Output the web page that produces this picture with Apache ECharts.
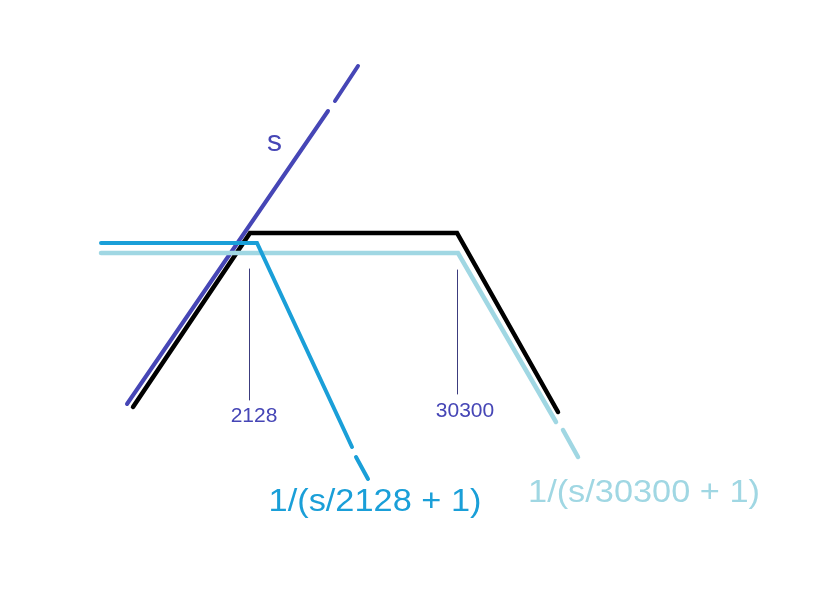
<!DOCTYPE html>
<html>
<head>
<meta charset="utf-8">
<script src="https://cdn.jsdelivr.net/npm/echarts@6/dist/echarts.min.js"></script>
<style>
html,body{margin:0;padding:0;background:#fff;}
#chart{width:835px;height:595px;}
</style>
</head>
<body>
<div id="chart"></div>
<script>
// Sketch coordinates (x: log-frequency position, y: magnitude position, downward)
var sSolid = [[127, 404], [328, 111]];
var sTail = [[335, 101], [358, 66]];
var totalLine = [[133, 407], [250, 233], [457, 233], [558, 412]];
var pole1Solid = [[101, 243], [257, 243], [352, 447]];
var pole1Tail = [[356, 457], [368, 479]];
var pole2Solid = [[101, 253], [458, 253], [556, 422]];
var pole2Tail = [[563, 430], [578, 457]];
var tick2128 = [[249.5, 269], [249.5, 400]];
var tick30300 = [[457.5, 270], [457.5, 394]];
var tickLabels = ['2128', '30300'];
var tickLabelPos = [[254, 416.5], [465, 411.5]];
var curveLabels = ['s', '1/(s/2128 + 1)', '1/(s/30300 + 1)'];
var curveLabelPos = [[274.5, 143], [375, 502.5], [644, 493]];

var INDIGO = '#4646b6', BLUE = '#1a9fd8', LIGHT = '#a0d7e3', BLACK = '#000000';

function lineSeries(data, color, width, z) {
  return {
    type: 'line', data: data, showSymbol: false, symbol: 'none', silent: true,
    z: z, animation: false,
    lineStyle: { color: color, width: width, cap: 'round', join: 'miter' }
  };
}

var chart = echarts.init(document.getElementById('chart'), null, { renderer: 'canvas' });
chart.setOption({
  animation: false,
  backgroundColor: '#ffffff',
  grid: { left: 0, right: 0, top: 0, bottom: 0 },
  xAxis: { type: 'value', min: 0, max: 835, show: false },
  yAxis: { type: 'value', min: 0, max: 595, inverse: true, show: false },
  series: [
    lineSeries(tick2128, '#3c3c7e', 1, 1),
    lineSeries(tick30300, '#3c3c7e', 1, 1),
    lineSeries(sSolid, INDIGO, 4, 2),
    lineSeries(sTail, INDIGO, 4, 2),
    lineSeries(totalLine, BLACK, 4.5, 3),
    lineSeries(pole2Solid, LIGHT, 4.5, 4),
    lineSeries(pole2Tail, LIGHT, 4.5, 4),
    lineSeries(pole1Solid, BLUE, 4, 5),
    lineSeries(pole1Tail, BLUE, 4, 5)
  ]
});

function px(p) { return chart.convertToPixel({ gridIndex: 0 }, p); }
var font = '"Liberation Sans", Arial, Helvetica, sans-serif';
var elements = [];
tickLabels.forEach(function (t, i) {
  var p = px(tickLabelPos[i]);
  elements.push({ type: 'text', x: p[0], y: p[1], scaleX: 1.05, silent: true,
    style: { text: t, fill: INDIGO, font: '20px ' + font, textAlign: 'center', textVerticalAlign: 'middle' } });
});
var labelColors = [INDIGO, BLUE, LIGHT];
var labelSizes = [30, 31.5, 31.5];
var labelScale = [1.0, 1.09, 1.09];
curveLabels.forEach(function (t, i) {
  var p = px(curveLabelPos[i]);
  elements.push({ type: 'text', x: p[0], y: p[1], scaleX: labelScale[i], silent: true,
    style: { text: t, fill: labelColors[i], font: labelSizes[i] + 'px ' + font, textAlign: 'center', textVerticalAlign: 'middle' } });
});
chart.setOption({ graphic: { elements: elements } });
</script>
</body>
</html>
